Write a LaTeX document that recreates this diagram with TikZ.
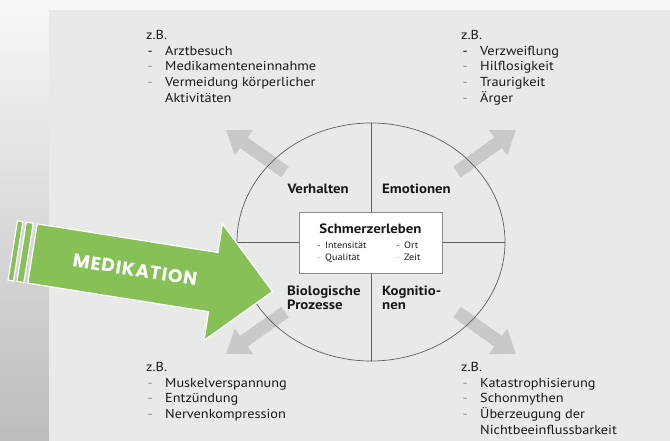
\documentclass[tikz,border=0pt]{standalone}
\usepackage{fontspec}
\setmainfont{PT Sans}[FakeStretch=1.1]
\newfontfamily\badgefont{Poppins}[LetterSpace=5]
\usetikzlibrary{arrows.meta}

\definecolor{panelgray}{RGB}{232,233,233}
\definecolor{arrowgray}{RGB}{200,201,201}
\definecolor{linegray}{RGB}{95,95,95}
\definecolor{inkgray}{RGB}{25,25,25}
\definecolor{medgreen}{RGB}{134,192,87}

% bullet dash followed by the item text
\newcommand\itm[2]{\makebox[19pt][l]{\hspace{1.5pt}\textcolor{#1}{-}}#2}
\newcommand\smitm[2]{\makebox[8pt][l]{\textcolor{#1}{-}}#2}

\tikzset{
  listtext/.style={inner sep=0pt, anchor=north west, align=left, text=inkgray,
    font=\fontsize{13}{15.7}\selectfont},
  quad/.style={inner sep=0pt, text=inkgray, align=left,
    font=\bfseries\fontsize{13.5}{14}\selectfont},
  smalltext/.style={inner sep=0pt, anchor=base west, text=inkgray,
    font=\fontsize{9.2}{10}\selectfont},
  outarrow/.style={draw=arrowgray, line width=13pt,
    -{Triangle[width=30pt,length=22pt]}},
  greenpart/.style={fill=medgreen, draw=white, line width=1.2pt, line join=miter},
}

\begin{document}
\begin{tikzpicture}[x=1pt,y=-1pt]
\useasboundingbox (0,0) rectangle (670,441);

% backdrop and panel
\shade[top color=white!97!black, bottom color=white!74!black] (0,0) rectangle (670,441);
\fill[panelgray] (49,10) rectangle (670,441);

% outward arrows from the four quadrants
\coordinate (ul-tail) at (285,172);
\coordinate (ul-tip)  at (226,130);
\coordinate (ur-tail) at (457,172);
\coordinate (ur-tip)  at (516,130);
\coordinate (ll-tail) at (285,312);
\coordinate (ll-tip)  at (226,354);
\coordinate (lr-tail) at (457,312);
\coordinate (lr-tip)  at (516,354);
\draw[outarrow] (ul-tail) -- (ul-tip);
\draw[outarrow] (ur-tail) -- (ur-tip);
\draw[outarrow] (ll-tail) -- (ll-tip);
\draw[outarrow] (lr-tail) -- (lr-tip);

% circle with its cross
\coordinate (c) at (371,242);
\draw[linegray, line width=0.7pt] (c) ellipse [x radius=134, y radius=119];
\coordinate (top) at (371,123);
\coordinate (bot) at (371,361);
\coordinate (lft) at (237,242);
\coordinate (rgt) at (505,242);
\draw[linegray, line width=0.7pt] (top) -- (bot);
\draw[linegray, line width=0.7pt] (lft) -- (rgt);

% central box
\node[draw=black!45, line width=0.8pt, fill=white, minimum width=143pt,
  minimum height=61pt, inner sep=0pt] (core) at (370.5,242.5) {};
\node[inner sep=0pt, text=inkgray, font=\bfseries\fontsize{13.5}{14}\selectfont]
  (title) at (370.5,229) {Schmerzerleben};
\node[smalltext] (int) at (317,248) {\smitm{black!70}{Intensität}};
\node[smalltext] (qual) at (317,260.5) {\smitm{black!30}{Qualität}};
\node[smalltext] (ort) at (396,248) {\smitm{black!70}{Ort}};
\node[smalltext] (zeit) at (396,260.5) {\smitm{black!30}{Zeit}};

% quadrant labels
\node[quad, anchor=east] (verh) at (349,189) {Verhalten};
\node[quad, anchor=west] (emo) at (382,189) {Emotionen};
\node[quad, anchor=north west] (bio) at (287,286) {Biologische\\Prozesse};
\node[quad, anchor=north west] (kog) at (382,286) {Kognitio-\\nen};

% example lists
\node[listtext] (ex-verh) at (146,30) {z.B.\\
  \itm{black}{Arztbesuch}\\
  \itm{black!45}{Medikamenteneinnahme}\\
  \itm{black!45}{Vermeidung körperlicher}\\
  \hspace*{19pt}Aktivitäten};
\node[listtext] (ex-emo) at (461,30) {z.B.\\
  \itm{black}{Verzweiflung}\\
  \itm{black!45}{Hilflosigkeit}\\
  \itm{black!45}{Traurigkeit}\\
  \itm{black!45}{Ärger}};
\node[listtext] (ex-bio) at (146,362) {z.B.\\
  \itm{black!45}{Muskelverspannung}\\
  \itm{black!45}{Entzündung}\\
  \itm{black!45}{Nervenkompression}};
\node[listtext] (ex-kog) at (461,362) {z.B.\\
  \itm{black!45}{Katastrophisierung}\\
  \itm{black!45}{Schonmythen}\\
  \itm{black!45}{Überzeugung der}\\
  \hspace*{19pt}Nichtbeeinflussbarkeit};

% green MEDIKATION arrow
\begin{scope}[shift={(32.5,253.5)}, rotate=-9]
  \fill[greenpart] (-20,-30) rectangle (-14.5,30);
  \fill[greenpart] (-11,-30) rectangle (-4,30);
  \filldraw[greenpart] (0,-30) -- (183,-30) -- (183,-59) -- (243,0)
    -- (183,59) -- (183,30) -- (0,30) -- cycle;
  \node[inner sep=0pt, text=white, rotate=-9,
    font=\badgefont\bfseries\fontsize{18.5}{20}\selectfont] (med) at (104,0) {MEDIKATION};
\end{scope}
\end{tikzpicture}
\end{document}
